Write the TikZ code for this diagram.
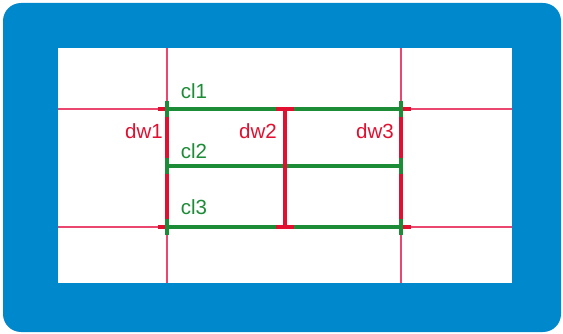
\documentclass[tikz,border=0pt]{standalone}
\usepackage{fontspec}
\setmainfont{Liberation Sans}
\definecolor{frameblue}{RGB}{0,136,204}
\definecolor{wallgreen}{RGB}{28,140,55}
\definecolor{wallred}{RGB}{226,16,48}
\definecolor{gridpink}{RGB}{235,70,110}
\begin{document}
\begin{tikzpicture}[x=1pt,y=-1pt,
  gridline/.style={draw=gridpink,line width=1.2pt},
  cline/.style={draw=wallgreen,line width=4pt},
  dwall/.style={draw=wallred,line width=4pt},
  gtick/.style={draw=wallgreen,line width=4pt},
  rtick/.style={draw=wallred,line width=4pt},
  clabel/.style={text=wallgreen,font=\fontsize{20.5}{20.5}\selectfont,inner sep=0pt},
  dlabel/.style={text=wallred,font=\fontsize{20.5}{20.5}\selectfont,inner sep=0pt}]
\useasboundingbox (0,0) rectangle (563,334);
\fill[white] (0,0) rectangle (563,334);
\fill[frameblue,rounded corners=18pt] (3,3) rectangle (561,332);
\fill[white] (57.5,48.5) rectangle (512,283);
% grid
\coordinate (A) at (167,109);
\coordinate (B) at (401,109);
\coordinate (C) at (167,227);
\coordinate (D) at (401,227);
\coordinate (E) at (167,166);
\coordinate (F) at (401,166);
\coordinate (G) at (285,109);
\coordinate (H) at (285,227);
\draw[gridline] (167,48.5) -- (167,283);
\draw[gridline] (401,48.5) -- (401,283);
\draw[gridline] (57.5,109) -- (512,109);
\draw[gridline] (57.5,227) -- (512,227);
% red walls
\draw[dwall] (A) -- (C);
\draw[dwall] (B) -- (D);
% red ticks
\draw[rtick] ([xshift=-9pt]A) -- (A);
\draw[rtick] ([xshift=-9pt]C) -- (C);
\draw[rtick] (B) -- ([xshift=10pt]B);
\draw[rtick] (D) -- ([xshift=10pt]D);
% green lines
\draw[cline] (A) -- (B);
\draw[cline] (E) -- (F);
\draw[cline] (C) -- (D);
% green ticks
\foreach \p in {A,B,C,D,E,F}{
  \draw[gtick] ([yshift=-8pt]\p) -- ([yshift=8pt]\p);
}
% dw2 with caps
\draw[dwall] (G) -- (H);
\draw[dwall] ([xshift=-9pt]G) -- ([xshift=9pt]G);
\draw[dwall] ([xshift=-9pt]H) -- ([xshift=9pt]H);
% labels
\node[clabel] (cl1) at (194,91) {cl1};
\node[clabel] (cl2) at (194,151) {cl2};
\node[clabel] (cl3) at (194,207) {cl3};
\node[dlabel] (dw1) at (144,131) {dw1};
\node[dlabel] (dw2) at (258,131) {dw2};
\node[dlabel] (dw3) at (375,131) {dw3};
\end{tikzpicture}
\end{document}
